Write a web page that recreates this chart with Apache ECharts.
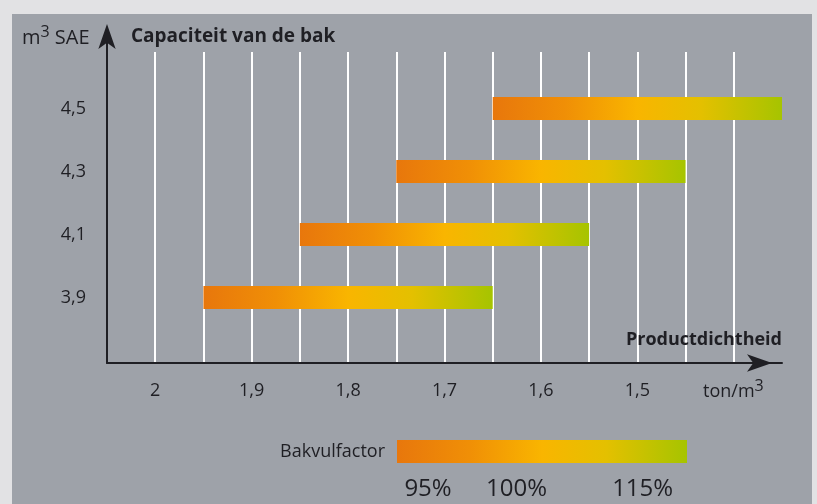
<!DOCTYPE html>
<html>
<head>
<meta charset="utf-8">
<script src="https://cdn.jsdelivr.net/npm/echarts@6/dist/echarts.min.js"></script>
<style>
    html, body { margin: 0; padding: 0; background: #e2e2e4; }
    #chart { width: 817px; height: 504px; }
</style>
</head>
<body>
<div id="chart"></div>
<script>
var capacities = [3.9, 4.1, 4.3, 4.5];
var densityFrom = [1.95, 1.85, 1.75, 1.65];
var densityTo = [1.65, 1.55, 1.45, 1.35];
var xTickLabels = [2, 1.9, 1.8, 1.7, 1.6, 1.5];
var fillLabels = ["95%", "100%", "115%"];

var FONT = "Open Sans";
var TEXT = "#1f1f24";
var PANEL = "#9ea2a9";

function barGradient() {
    return new echarts.graphic.LinearGradient(0, 0, 1, 0, [
        { offset: 0, color: "#e8770c" },
        { offset: 0.25, color: "#f08f06" },
        { offset: 0.5, color: "#f9b500" },
        { offset: 0.72, color: "#e4c000" },
        { offset: 1, color: "#a6c400" }
    ]);
}

function comma(v) {
    return String(v).replace(".", ",");
}

var barData = capacities.map(function (c, i) {
    return [densityFrom[i], densityTo[i], c];
});

// legend bar geometry and where each label sits along it
var legendBar = { x: 397, y: 440, w: 290, h: 23 };
var fillLabelPos = [0.107, 0.412, 0.847];

var chart = echarts.init(document.getElementById("chart"));

var graphics = [
    { type: "rect", z: -10, shape: { x: 12, y: 14, width: 800, height: 490 }, style: { fill: PANEL } },
    {
        type: "text", z: 10, style: {
            x: 22, y: 38, text: "m{s|3} SAE", fill: TEXT, textVerticalAlign: "middle",
            font: "20px '" + FONT + "'",
            rich: { s: { fontSize: 16, fontFamily: FONT, fill: TEXT, padding: [0, 0, 12, 0] } }
        }
    },
    {
        type: "text", z: 10, style: {
            x: 131, y: 37, text: "Capaciteit van de bak", fill: TEXT, textVerticalAlign: "middle",
            font: "bold 19px '" + FONT + "'"
        }
    },
    {
        type: "text", z: 10, style: {
            x: 782, y: 340, text: "Productdichtheid", fill: TEXT, textAlign: "right", textVerticalAlign: "middle",
            font: "bold 18px '" + FONT + "'"
        }
    },
    {
        type: "text", z: 10, style: {
            x: 703, y: 392, text: "ton/m{s|3}", fill: TEXT, textVerticalAlign: "middle",
            font: "18px '" + FONT + "'",
            rich: { s: { fontSize: 16, fontFamily: FONT, fill: TEXT, padding: [0, 0, 11, 0] } }
        }
    },
    {
        type: "text", z: 10, style: {
            x: 385, y: 452, text: "Bakvulfactor", fill: TEXT, textAlign: "right", textVerticalAlign: "middle",
            font: "18px '" + FONT + "'"
        }
    },
    {
        type: "rect",
        shape: { x: legendBar.x, y: legendBar.y, width: legendBar.w, height: legendBar.h },
        style: { fill: barGradient() }
    }
];

fillLabels.forEach(function (t, i) {
    graphics.push({
        type: "text", z: 10, style: {
            x: legendBar.x + legendBar.w * fillLabelPos[i], y: 489, text: t, fill: TEXT,
            textAlign: "center", textVerticalAlign: "middle", font: "24px '" + FONT + "'"
        }
    });
});

chart.setOption({
    backgroundColor: "#e2e2e4",
    animation: false,
    graphic: graphics,
    grid: [
        { left: 107, right: 35, top: 52, bottom: 141 },
        { left: 107, right: 35, top: 31, bottom: 141 }
    ],
    xAxis: [{
        type: "value",
        gridIndex: 0,
        inverse: true,
        min: 1.35,
        max: 2.05,
        interval: 0.05,
        axisLine: {
            show: true,
            symbol: ["none", "arrow"],
            symbolSize: [13, 25],
            symbolOffset: [0, -10],
            lineStyle: { color: TEXT, width: 2 }
        },
        axisTick: { show: false },
        axisLabel: {
            customValues: xTickLabels,
            formatter: comma,
            color: TEXT,
            fontFamily: FONT,
            fontSize: 18,
            margin: 19
        },
        splitLine: {
            show: true,
            showMinLine: false,
            showMaxLine: false,
            lineStyle: { color: "#ffffff", width: 2 }
        }
    }, {
        type: "value",
        gridIndex: 1,
        show: false,
        min: 0,
        max: 1
    }],
    yAxis: [{
        type: "value",
        gridIndex: 0,
        min: 3.692,
        max: 4.679,
        axisLine: { show: false },
        axisTick: { show: false },
        splitLine: { show: false },
        axisLabel: {
            customValues: capacities,
            formatter: comma,
            color: TEXT,
            fontFamily: FONT,
            fontSize: 18,
            margin: 21
        }
    }, {
        type: "value",
        gridIndex: 1,
        min: 0,
        max: 1,
        axisLine: {
            show: true,
            symbol: ["none", "arrow"],
            symbolSize: [13, 25],
            symbolOffset: [0, 7],
            lineStyle: { color: TEXT, width: 2 }
        },
        axisTick: { show: false },
        axisLabel: { show: false },
        splitLine: { show: false }
    }],
    series: [{
        type: "custom",
        xAxisIndex: 0,
        yAxisIndex: 0,
        data: barData,
        renderItem: function (params, api) {
            var y = api.value(2);
            var p1 = api.coord([api.value(0), y]);
            var p2 = api.coord([api.value(1), y]);
            var h = 23;
            return {
                type: "rect",
                shape: {
                    x: Math.min(p1[0], p2[0]),
                    y: p1[1] - h / 2,
                    width: Math.abs(p2[0] - p1[0]),
                    height: h
                },
                style: { fill: barGradient() }
            };
        }
    }]
});
</script>
</body>
</html>
